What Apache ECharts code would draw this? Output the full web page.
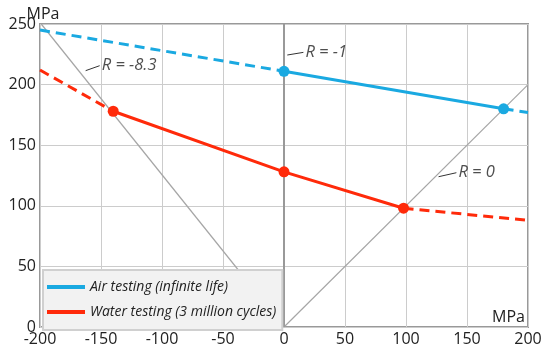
<!DOCTYPE html>
<html>
<head>
<meta charset="utf-8">
<script src="https://cdn.jsdelivr.net/npm/echarts@6/dist/echarts.min.js"></script>
<style>
  html, body { margin: 0; padding: 0; background: #fff; }
  #chart { width: 542px; height: 346px; }
</style>
</head>
<body>
<div id="chart"></div>
<script>
// x: mean stress (MPa), y: stress amplitude (MPa)
const xTicks = [-200, -150, -100, -50, 0, 50, 100, 150, 200]
const yTicks = [0, 50, 100, 150, 200, 250]

const airSolid = [[0, 211], [180, 180]]
const airDashLeft = [[-200, 245], [0, 211]]
const airDashRight = [[180, 180], [200, 177]]

const waterSolid = [[-140, 178], [0, 128], [98, 98]]
const waterDashLeft = [[-200, 212], [-140, 178]]
const waterDashRight = [[98, 98], [200, 88]]

const rLineNeg83 = [[-199, 250], [0, 0]]
const rLineNeg1 = [[0, 0], [0, 250]]
const rLineZero = [[0, 0], [200, 200]]

// label anchors: [leader start, leader end], text
const rLabels = [
  { text: 'R = -8.3', leader: [[-162.6, 211.5], [-151.1, 215.6]] },
  { text: 'R = -1', leader: [[2.7, 224.4], [15.9, 226.6]] },
  { text: 'R = 0', leader: [[126.7, 124], [141.3, 127.3]] },
]

const AIR = '#1aa9e1'
const WATER = '#ff2a0a'
const GREY = '#a6a6a6'
const FONT = 'Open Sans'

const chart = echarts.init(document.getElementById('chart'), null, { renderer: 'canvas' })

function line(name, data, color, width, dashed, z) {
  return {
    name,
    type: 'line',
    data,
    symbol: 'none',
    silent: true,
    z: z || 2,
    lineStyle: { color, width, type: dashed ? [10, 6] : 'solid' },
  }
}

const series = [
  line('r-8.3', rLineNeg83, GREY, 1.2, false, 1),
  line('r0', rLineZero, GREY, 1.2, false, 1),
  line('r-1', rLineNeg1, '#999999', 2, false, 1),
  line('airDashL', airDashLeft, AIR, 3, true),
  line('airDashR', airDashRight, AIR, 3, true),
  line('waterDashL', waterDashLeft, WATER, 3, true),
  line('waterDashR', waterDashRight, WATER, 3, true),
  {
    name: 'Air testing (infinite life)',
    type: 'line',
    data: airSolid,
    symbol: 'circle',
    symbolSize: 11,
    z: 3,
    itemStyle: { color: AIR },
    lineStyle: { color: AIR, width: 3 },
  },
  {
    name: 'Water testing (3 million cycles)',
    type: 'line',
    data: waterSolid,
    symbol: 'circle',
    symbolSize: 11,
    z: 3,
    itemStyle: { color: WATER },
    lineStyle: { color: WATER, width: 3 },
  },
]

rLabels.forEach((lab, i) => {
  series.push({
    name: 'leader' + i,
    type: 'line',
    data: lab.leader,
    symbol: 'none',
    silent: true,
    z: 4,
    lineStyle: { color: '#333', width: 1 },
  })
  series.push({
    name: 'rlabel' + i,
    type: 'scatter',
    data: [lab.leader[1]],
    symbolSize: 0,
    silent: true,
    z: 4,
    label: {
      show: true,
      position: 'right',
      distance: 2,
      formatter: lab.text,
      color: '#222',
      fontFamily: FONT,
      fontStyle: 'italic',
      fontSize: 16.5,
    },
  })
})

chart.setOption({
  animation: false,
  grid: {
    left: 40,
    right: 14,
    top: 24,
    bottom: 19,
    outerBoundsMode: 'none',
    show: true,
    borderColor: '#999999',
    borderWidth: 2,
    backgroundColor: 'transparent',
  },
  legend: {
    data: ['Air testing (infinite life)', 'Water testing (3 million cycles)'],
    orient: 'vertical',
    left: 43,
    top: 270,
    backgroundColor: '#f2f2f2',
    borderColor: '#d0d0d0',
    borderWidth: 2,
    borderRadius: 0,
    padding: [7, 6, 8, 4],
    itemGap: 5,
    itemWidth: 38,
    itemHeight: 4,
    icon: 'rect',
    textStyle: {
      fontFamily: FONT,
      fontStyle: 'italic',
      fontSize: 14,
      lineHeight: 20,
      color: '#222',
    },
  },
  xAxis: {
    type: 'value',
    min: -200,
    max: 200,
    interval: 50,
    name: 'MPa',
    nameLocation: 'end',
    nameGap: -3,
    nameMoveOverlap: false,
    nameTextStyle: {
      align: 'right',
      verticalAlign: 'bottom',
      fontFamily: FONT,
      fontSize: 16,
      color: '#222',
      padding: [0, 0, 2, 0],
    },
    axisLine: { show: false },
    axisTick: { show: false },
    axisLabel: {
      margin: 4,
      fontFamily: FONT,
      fontSize: 16,
      color: '#222',
      formatter: (v) => (xTicks.includes(v) ? String(v) : ''),
    },
    splitLine: { lineStyle: { color: '#cccccc', width: 1 } },
  },
  yAxis: {
    type: 'value',
    min: 0,
    max: 250,
    interval: 50,
    name: 'MPa',
    nameLocation: 'end',
    nameGap: 2,
    nameMoveOverlap: false,
    nameTextStyle: {
      align: 'center',
      padding: [0, 0, 0, 6],
      fontFamily: FONT,
      fontSize: 16,
      color: '#222',
    },
    axisLine: { show: false, onZero: false },
    axisTick: { show: false },
    axisLabel: {
      margin: 4,
      fontFamily: FONT,
      fontSize: 16,
      color: '#222',
      formatter: (v) => (yTicks.includes(v) ? String(v) : ''),
    },
    splitLine: { lineStyle: { color: '#cccccc', width: 1 } },
  },
  series,
})
</script>
</body>
</html>
